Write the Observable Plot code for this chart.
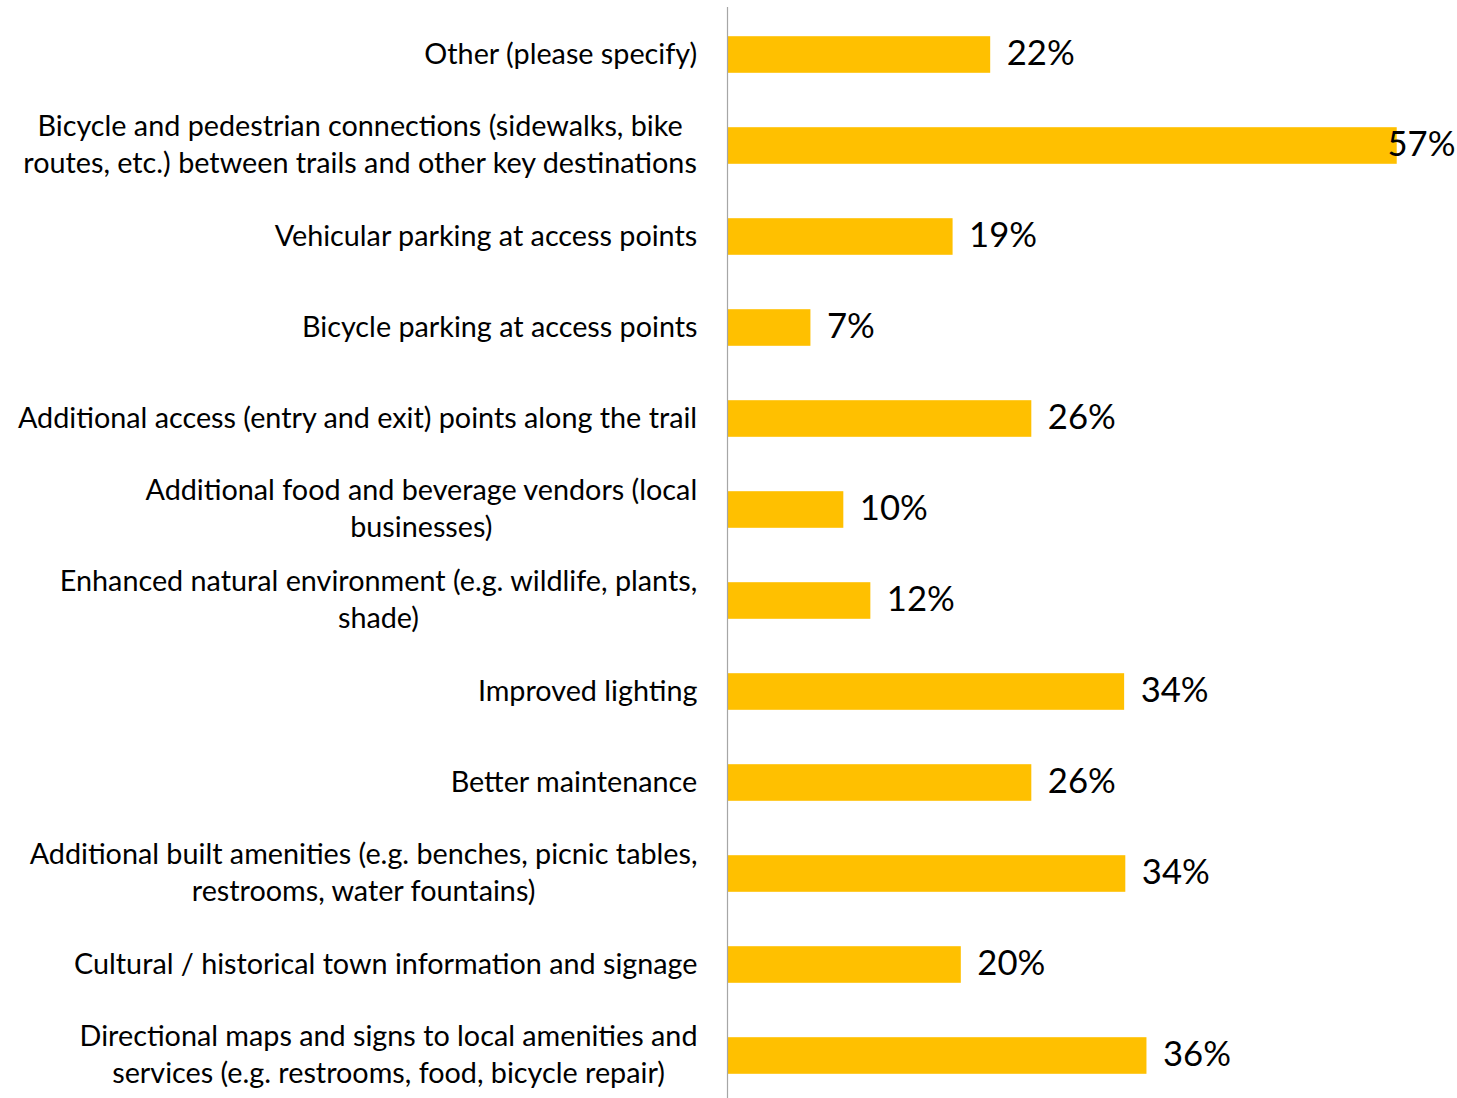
<!DOCTYPE html>
<html><head><meta charset="utf-8">
<script src="https://cdn.jsdelivr.net/npm/d3@7"></script>
<script src="https://cdn.jsdelivr.net/npm/@observablehq/plot@0.6"></script>
<style>html,body{margin:0;padding:0;background:#fff} svg{display:block}</style>
</head><body><div id="chart"></div>
<script>
// Categories, top to bottom (line breaks as wrapped in the original)
const categories = [
  "Other (please specify)",
  "Bicycle and pedestrian connections (sidewalks, bike\nroutes, etc.) between trails and other key destinations",
  "Vehicular parking at access points",
  "Bicycle parking at access points",
  "Additional access (entry and exit) points along the trail",
  "Additional food and beverage vendors (local\nbusinesses)",
  "Enhanced natural environment (e.g. wildlife, plants,\nshade)",
  "Improved lighting",
  "Better maintenance",
  "Additional built amenities (e.g. benches, picnic tables,\nrestrooms, water fountains)",
  "Cultural / historical town information and signage",
  "Directional maps and signs to local amenities and\nservices (e.g. restrooms, food, bicycle repair)"
];
// Percent of respondents
const values = [22.4, 57.0, 19.2, 7.1, 25.9, 9.9, 12.2, 33.8, 25.9, 33.9, 19.9, 35.7];

const data = categories.map((c, i) => ({category: c, value: values[i]}));

const FONT = "Lato";
const ctx = document.createElement("canvas").getContext("2d");
function measure(text, size) { ctx.font = `${size}px ${FONT}`; return ctx.measureText(text).width; }

// fit font sizes to the reference's text widths
const labelSize = 30 * 680 / measure("Additional access (entry and exit) points along the trail", 30);
const pctSize = 40 * 68 / measure("22%", 40);
const maxValue = d3.max(values);

const labelMarks = categories.map(c => {
  const lines = c.split("\n");
  const maxW = d3.max(lines, l => measure(l, labelSize));
  return Plot.text([c], {
    y: d => d, text: d => d, frameAnchor: "left",
    dx: -30 - maxW / 2, dy: -3, textAnchor: "middle", lineAnchor: "middle",
    lineHeight: 37 / labelSize, fontSize: labelSize, fill: "#000"
  });
});

const chart = Plot.plot({
  width: 1457,
  height: 1098,
  marginLeft: 727,
  marginRight: 0,
  marginTop: 7,
  marginBottom: 0,
  style: {fontFamily: FONT, background: "#fff", overflow: "visible"},
  x: {domain: [0, 62.13], axis: null},
  y: {domain: categories, range: [5.8, 1105], padding: 0, axis: null},
  marks: [
    Plot.barX(data, {x: "value", y: "category", fill: "#FFC000", insetTop: 27.2, insetBottom: 27.2}),
    Plot.ruleX([0], {stroke: "#A6A6A6", strokeWidth: 1.2}),
    ...labelMarks,
    Plot.text(data.filter(d => d.value < maxValue), {
      x: "value", y: "category", text: d => `${Math.round(d.value)}%`,
      textAnchor: "start", dx: 16, dy: -1, fontSize: pctSize, fill: "#000"
    }),
    Plot.text(data.filter(d => d.value === maxValue), {
      y: "category", text: d => `${Math.round(d.value)}%`, frameAnchor: "right",
      textAnchor: "end", dx: -2, dy: -1, fontSize: pctSize, fill: "#000"
    })
  ]
});
document.getElementById("chart").appendChild(chart);
</script>
</body></html>
